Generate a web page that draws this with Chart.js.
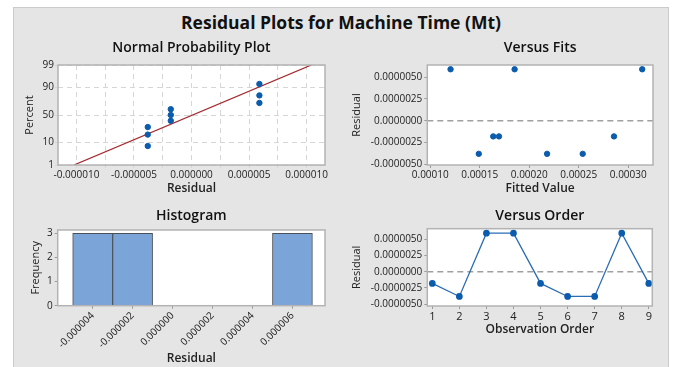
<!DOCTYPE html>
<html>
<head>
<meta charset="utf-8">
<script src="https://cdn.jsdelivr.net/npm/chart.js@4.4.1/dist/chart.umd.min.js"></script>
<style>
  body { margin: 0; background: #fff; width: 673px; height: 367px; overflow: hidden; position: relative; }
  #panel { position: absolute; left: 13px; top: 7px; width: 654px; height: 362px; background: #e5e5e5;
           border-left: 1px solid #cbcbcb; border-top: 1px solid #cbcbcb; border-right: 1px solid #cbcbcb; }
  #mainTitle { position: absolute; left: 13px; top: 10px; width: 656px; text-align: center;
               font: bold 17.5px 'Open Sans', sans-serif; color: #111; }
  canvas { position: absolute; }
</style>
</head>
<body>
<div id="panel"></div>
<div id="mainTitle">Residual Plots for Machine Time (Mt)</div>
<canvas id="normChart" width="321" height="167" style="left:14px;top:30px"></canvas>
<canvas id="fitsChart" width="325" height="167" style="left:340px;top:30px"></canvas>
<canvas id="histChart" width="321" height="169" style="left:14px;top:198px"></canvas>
<canvas id="orderChart" width="325" height="140" style="left:340px;top:198px"></canvas>
<script>
// values
const order = [1, 2, 3, 4, 5, 6, 7, 8, 9];
const residuals = [-1.8e-6, -3.8e-6, 5.9e-6, 5.9e-6, -1.8e-6, -3.8e-6, -3.8e-6, 5.9e-6, -1.8e-6];
const fitted = [0.0001636, 0.000149, 0.0001205, 0.0001852, 0.0001694, 0.000218, 0.000254, 0.0003141, 0.0002856];
const histBins = [-4e-6, -2e-6, 0, 2e-6, 4e-6, 6e-6];
const histCounts = [3, 3, 0, 0, 0, 3];

// tick labels
const percentTicks = [1, 10, 50, 90, 99];
const probXTicks = [-10e-6, -7.5e-6, -5e-6, -2.5e-6, 0, 2.5e-6, 5e-6, 7.5e-6, 10e-6];
const fitsXTicks = [0.0001, 0.00015, 0.0002, 0.00025, 0.0003];
const residTicks = [-5e-6, -2.5e-6, 0, 2.5e-6, 5e-6];
const freqTicks = [0, 1, 2, 3];

Chart.defaults.font.family = "'Open Sans', sans-serif";
Chart.defaults.font.size = 10;
Chart.defaults.color = '#222';
Chart.defaults.animation = false;
Chart.defaults.plugins.legend.display = false;
Chart.defaults.plugins.tooltip.enabled = false;

// inverse normal cdf (Acklam)
function probit(p) {
  const a = [-3.969683028665376e+01, 2.209460984245205e+02, -2.759285104469687e+02, 1.383577518672690e+02, -3.066479806614716e+01, 2.506628277459239e+00];
  const b = [-5.447609879822406e+01, 1.615858368580409e+02, -1.556989798598866e+02, 6.680131188771972e+01, -1.328068155288572e+01];
  const c = [-7.784894002430293e-03, -3.223964580411365e-01, -2.400758277161838e+00, -2.549732539343734e+00, 4.374664141464968e+00, 2.938163982698783e+00];
  const d = [7.784695709041462e-03, 3.224671290700398e-01, 2.445134137142996e+00, 3.754408661907416e+00];
  const pl = 0.02425;
  let q, r;
  if (p < pl) {
    q = Math.sqrt(-2 * Math.log(p));
    return (((((c[0]*q+c[1])*q+c[2])*q+c[3])*q+c[4])*q+c[5]) / ((((d[0]*q+d[1])*q+d[2])*q+d[3])*q+1);
  }
  if (p > 1 - pl) {
    q = Math.sqrt(-2 * Math.log(1 - p));
    return -(((((c[0]*q+c[1])*q+c[2])*q+c[3])*q+c[4])*q+c[5]) / ((((d[0]*q+d[1])*q+d[2])*q+d[3])*q+1);
  }
  q = p - 0.5; r = q * q;
  return (((((a[0]*r+a[1])*r+a[2])*r+a[3])*r+a[4])*r+a[5])*q / (((((b[0]*r+b[1])*r+b[2])*r+b[3])*r+b[4])*r+1);
}

// plot area white + grey frame
const framePlugin = {
  id: 'frame',
  beforeDraw(chart) {
    const {ctx, chartArea: a} = chart;
    ctx.save();
    ctx.fillStyle = '#fff';
    ctx.fillRect(a.left, a.top, a.right - a.left, a.bottom - a.top);
    ctx.restore();
  },
  afterDraw(chart) {
    const {ctx, chartArea: a} = chart;
    ctx.save();
    ctx.strokeStyle = '#b3b3b3';
    ctx.lineWidth = 1.5;
    ctx.strokeRect(a.left, a.top, a.right - a.left, a.bottom - a.top);
    ctx.restore();
  }
};

// dashed reference line at residual 0
const zeroPlugin = {
  id: 'zeroLine',
  beforeDatasetsDraw(chart) {
    const {ctx, chartArea: a, scales} = chart;
    const y = scales.y.getPixelForValue(0);
    ctx.save();
    ctx.strokeStyle = '#a0a0a0';
    ctx.lineWidth = 1.5;
    ctx.setLineDash([6, 4]);
    ctx.beginPath();
    ctx.moveTo(a.left, y);
    ctx.lineTo(a.right, y);
    ctx.stroke();
    ctx.restore();
  }
};

function fixTicks(values) {
  return s => { s.ticks = values.map(v => ({ value: v })); };
}

function subTitle(text, top, bottom) {
  return { display: true, text, fullSize: false, color: '#111',
           font: { size: 14, weight: '600' }, padding: { top, bottom } };
}

function axisTitle(text, pad, size, weight) {
  return { display: true, text, color: '#222', font: { size: size || 12, weight: weight || '600' },
           padding: { top: pad, bottom: pad } };
}

const tickGrid = { drawOnChartArea: false, tickLength: 3, color: '#9a9a9a' };
const blue = '#0b5cad';

// ---- normal probability plot ----
const n = residuals.length;
const sorted = [...residuals].sort((p, q) => p - q);
const probPoints = sorted.map((r, i) => ({ x: r, y: probit((i + 1 - 0.3) / (n + 0.4)) }));
const mean = residuals.reduce((s, v) => s + v, 0) / n;
const sd = Math.sqrt(residuals.reduce((s, v) => s + (v - mean) ** 2, 0) / (n - 1));
const zLo = probit(percentTicks[0] / 100), zHi = probit(percentTicks[percentTicks.length - 1] / 100);

new Chart(document.getElementById('normChart'), {
  type: 'scatter',
  data: {
    datasets: [
      { data: probPoints, backgroundColor: blue, borderColor: blue, pointRadius: 2.7 },
      { data: [{ x: mean + zLo * sd, y: zLo }, { x: mean + zHi * sd, y: zHi }],
        showLine: true, borderColor: '#a52a2e', borderWidth: 1.3, pointRadius: 0 }
    ]
  },
  options: {
    responsive: false,
    layout: { padding: { left: 0, right: 10, top: 0, bottom: 0 } },
    plugins: { title: subTitle('Normal Probability Plot', 9.3, 8.9) },
    scales: {
      x: {
        type: 'linear', min: -11.6e-6, max: 11.6e-6,
        afterBuildTicks: fixTicks(probXTicks),
        afterFit: s => { s.height = 32; },
        ticks: { autoSkip: false, maxRotation: 0, minRotation: 0, padding: 1,
                 callback: (v, i) => (i % 2 === 0 ? v.toFixed(6) : '') },
        grid: { color: '#d6d6d6', tickLength: 3 },
        border: { display: false, dash: [5, 4] },
        title: axisTitle('Residual', 1)
      },
      y: {
        type: 'linear', min: zLo, max: zHi,
        afterBuildTicks: fixTicks(percentTicks.map(p => probit(p / 100))),
        afterFit: s => { s.width = 44; },
        ticks: { padding: 1, callback: (v, i) => percentTicks[i] },
        grid: { color: '#d6d6d6', tickLength: 3 },
        border: { display: false, dash: [5, 4] },
        title: axisTitle('Percent', 9.4, 11, '400')
      }
    }
  },
  plugins: [framePlugin]
});

// ---- versus fits ----
new Chart(document.getElementById('fitsChart'), {
  type: 'scatter',
  data: {
    datasets: [{ data: fitted.map((f, i) => ({ x: f, y: residuals[i] })),
                 backgroundColor: blue, borderColor: blue, pointRadius: 2.7 }]
  },
  options: {
    responsive: false,
    layout: { padding: { left: 0, right: 12, top: 0, bottom: 0 } },
    plugins: { title: subTitle('Versus Fits', 9.3, 8.9) },
    scales: {
      x: {
        type: 'linear', min: 0.000097, max: 0.000325,
        afterBuildTicks: fixTicks(fitsXTicks),
        afterFit: s => { s.height = 32; },
        ticks: { autoSkip: false, maxRotation: 0, minRotation: 0, padding: 1,
                 callback: v => v.toFixed(5) },
        grid: tickGrid,
        border: { display: false },
        title: axisTitle('Fitted Value', 1)
      },
      y: {
        type: 'linear', min: -5.08e-6, max: 6.39e-6,
        afterBuildTicks: fixTicks(residTicks),
        afterFit: s => { s.width = 87.3; },
        ticks: { padding: 2, callback: v => v.toFixed(7) },
        grid: tickGrid,
        border: { display: false },
        title: axisTitle('Residual', 10, 11, '400')
      }
    }
  },
  plugins: [framePlugin, zeroPlugin]
});

// ---- histogram ----
new Chart(document.getElementById('histChart'), {
  type: 'bar',
  data: {
    datasets: [{ data: histBins.map((b, i) => ({ x: b, y: histCounts[i] })),
                 backgroundColor: '#7ba4d8', borderColor: '#4a4f58', borderWidth: 1,
                 barPercentage: 1, categoryPercentage: 1 }]
  },
  options: {
    responsive: false,
    layout: { padding: { left: 0, right: 10, top: 0, bottom: 0 } },
    plugins: { title: subTitle('Histogram', 9.6, 5.6) },
    scales: {
      x: {
        type: 'linear', min: -5.75e-6, max: 7.63e-6, offset: false,
        afterBuildTicks: fixTicks(histBins),
        afterFit: s => { s.height = 61.3; },
        ticks: { autoSkip: false, maxRotation: 45, minRotation: 45, padding: 1,
                 callback: v => v.toFixed(6) },
        grid: { drawOnChartArea: false, tickLength: 3, color: '#9a9a9a', offset: false },
        border: { display: false },
        title: axisTitle('Residual', 1)
      },
      y: {
        type: 'linear', min: 0, max: 3.14,
        afterBuildTicks: fixTicks(freqTicks),
        afterFit: s => { s.width = 43.7; },
        ticks: { padding: 2, callback: v => v },
        grid: tickGrid,
        border: { display: false },
        title: axisTitle('Frequency', 15, 11, '400')
      }
    }
  },
  plugins: [framePlugin]
});

// ---- versus order ----
new Chart(document.getElementById('orderChart'), {
  type: 'line',
  data: {
    datasets: [{ data: order.map((o, i) => ({ x: o, y: residuals[i] })),
                 borderColor: '#2b6cb6', borderWidth: 1.3, tension: 0,
                 pointBackgroundColor: blue, pointBorderColor: blue, pointRadius: 2.7 }]
  },
  options: {
    responsive: false,
    layout: { padding: { left: 0, right: 12.7, top: 0, bottom: 0 } },
    plugins: { title: subTitle('Versus Order', 9.6, 4.3) },
    scales: {
      x: {
        type: 'linear', min: 0.815, max: 9.13,
        afterBuildTicks: fixTicks(order),
        afterFit: s => { s.height = 32; },
        ticks: { autoSkip: false, maxRotation: 0, minRotation: 0, padding: 1, font: { size: 11 },
                 callback: v => v },
        grid: tickGrid,
        border: { display: false },
        title: axisTitle('Observation Order', 1)
      },
      y: {
        type: 'linear', min: -5.26e-6, max: 6.58e-6,
        afterBuildTicks: fixTicks(residTicks),
        afterFit: s => { s.width = 87.3; },
        ticks: { padding: 2, callback: v => v.toFixed(7) },
        grid: tickGrid,
        border: { display: false },
        title: axisTitle('Residual', 10, 11, '400')
      }
    }
  },
  plugins: [framePlugin, zeroPlugin]
});
</script>
</body>
</html>
